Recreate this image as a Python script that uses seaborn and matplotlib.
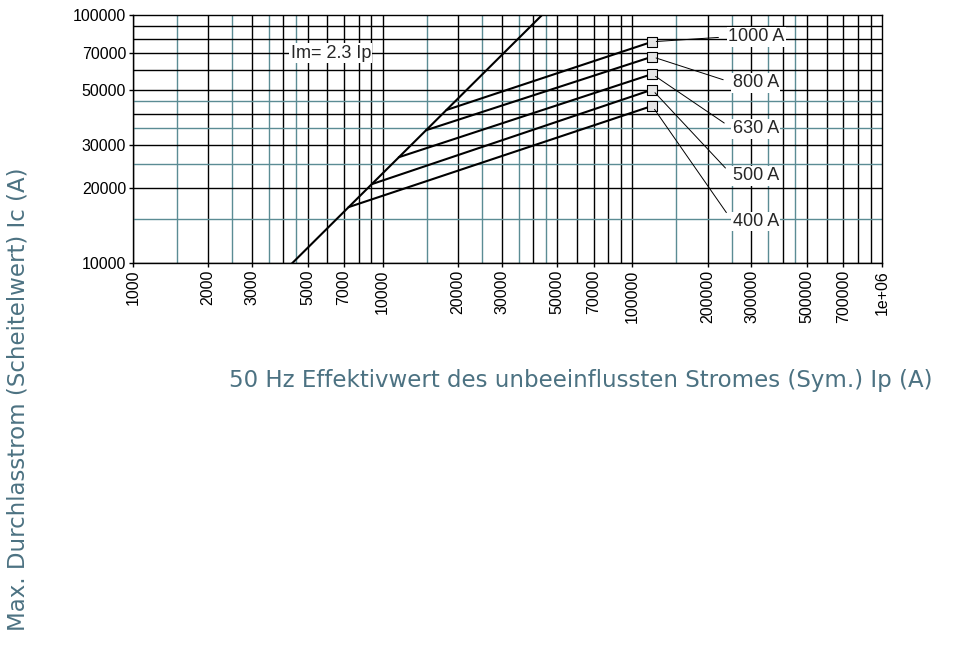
import numpy as np
import pandas as pd
import matplotlib
matplotlib.use("Agg")
import matplotlib.pyplot as plt
import seaborn as sns

sns.set_theme(style="white")
plt.rcParams["font.family"] = ["Liberation Sans", "DejaVu Sans"]

# ---- data ----
# Im = 2.3 Ip line (clipped by the axes)
im_ip = [4000, 50000]
im_ic = [9200, 115000]

# cut-off current lines per fuse rating: start on the Im line, end at the marker
ratings = ["400 A", "500 A", "630 A", "800 A", "1000 A"]
ip_start = [7300, 9050, 11600, 14900, 18000]
ic_start = [16800, 20800, 26700, 34300, 41400]
ip_end = [120000, 120000, 120000, 120000, 120000]
ic_end = [43000, 50000, 57800, 67900, 78000]

# label positions for the rating texts
label_ip = [252000, 252000, 252000, 252000, 242000]
label_ic = [14700, 22500, 34800, 53300, 81700]

x_ticks = [1000, 2000, 3000, 5000, 7000, 10000, 20000, 30000, 50000, 70000,
           100000, 200000, 300000, 500000, 700000, 1000000]
x_ticklabels = ["1000", "2000", "3000", "5000", "7000", "10000", "20000", "30000",
                "50000", "70000", "100000", "200000", "300000", "500000",
                "700000", "1e+06"]
y_ticks = [10000, 20000, 30000, 50000, 70000, 100000]
y_ticklabels = ["10000", "20000", "30000", "50000", "70000", "100000"]

lines = pd.DataFrame({
    "ip": ip_start + ip_end,
    "ic": ic_start + ic_end,
    "rating": ratings + ratings,
})
ends = pd.DataFrame({"ip": ip_end, "ic": ic_end, "rating": ratings})
im_df = pd.DataFrame({"ip": im_ip, "ic": im_ic})

teal = "#5b8c94"
label_col = "#4c7282"

fig = plt.figure(figsize=(9.55, 6.47), dpi=100)
ax = fig.add_axes([0.1393, 0.5935, 0.7843, 0.3833])
ax.set_xscale("log")
ax.set_yscale("log")
ax.set_xlim(1000, 1000000)
ax.set_ylim(10000, 100000)

# grid: black at whole multiples, teal at the half steps
for k in [1000, 10000, 100000]:
    for m in range(1, 10):
        ax.axvline(m * k, color="black", lw=1.0, zorder=1)
    for m in [1.5, 2.5, 3.5, 4.5]:
        ax.axvline(m * k, color=teal, lw=1.0, zorder=1)
for m in range(1, 10):
    ax.axhline(m * 10000, color="black", lw=1.0, zorder=1)
for m in [1.5, 2.5, 3.5, 4.5]:
    ax.axhline(m * 10000, color=teal, lw=1.0, zorder=1)

sns.lineplot(data=im_df, x="ip", y="ic", color="black", lw=1.5, ax=ax, zorder=3)
sns.lineplot(data=lines, x="ip", y="ic", units="rating", estimator=None,
             color="black", lw=1.5, ax=ax, zorder=3)
sns.scatterplot(data=ends, x="ip", y="ic", marker="s", s=45, facecolor="#e6e6e6",
                edgecolor="black", linewidth=0.8, ax=ax, zorder=4)

ax.text(6200, 70000, "Im= 2.3 Ip", fontsize=13, ha="center", va="center",
        bbox=dict(facecolor="white", edgecolor="none", pad=1), zorder=5)

for r, x0, y0, xt, yt in zip(ratings, ip_end, ic_end, label_ip, label_ic):
    ax.annotate(r, xy=(x0, y0), xytext=(xt, yt), fontsize=13, ha="left", va="center",
                bbox=dict(facecolor="white", edgecolor="none", pad=1),
                arrowprops=dict(arrowstyle="-", lw=0.7, color="black",
                                relpos=(0, 0.5), shrinkA=6, shrinkB=3), zorder=5)

ax.set_xticks(x_ticks)
ax.set_xticklabels(x_ticklabels, rotation=90)
ax.set_yticks(y_ticks)
ax.set_yticklabels(y_ticklabels)
ax.minorticks_off()
ax.tick_params(axis="both", which="major", length=3, width=1, color="black",
               labelsize=11.5, labelcolor="black", pad=2, bottom=True, left=True)
for s in ax.spines.values():
    s.set_color("black")
    s.set_linewidth(1.0)
ax.set_xlabel("")
ax.set_ylabel("")

fig.text(0.6085, 0.4019, "50 Hz Effektivwert des unbeeinflussten Stromes (Sym.) Ip (A)",
         fontsize=16.5, color=label_col, ha="center", va="baseline", family="DejaVu Sans")
fig.text(0.0185, 0.3835, "Max. Durchlasstrom (Scheitelwert) Ic (A)",
         fontsize=16.5, color=label_col, ha="center", va="center", rotation=90,
         family="DejaVu Sans")

fig.savefig("out.png", dpi=100)
